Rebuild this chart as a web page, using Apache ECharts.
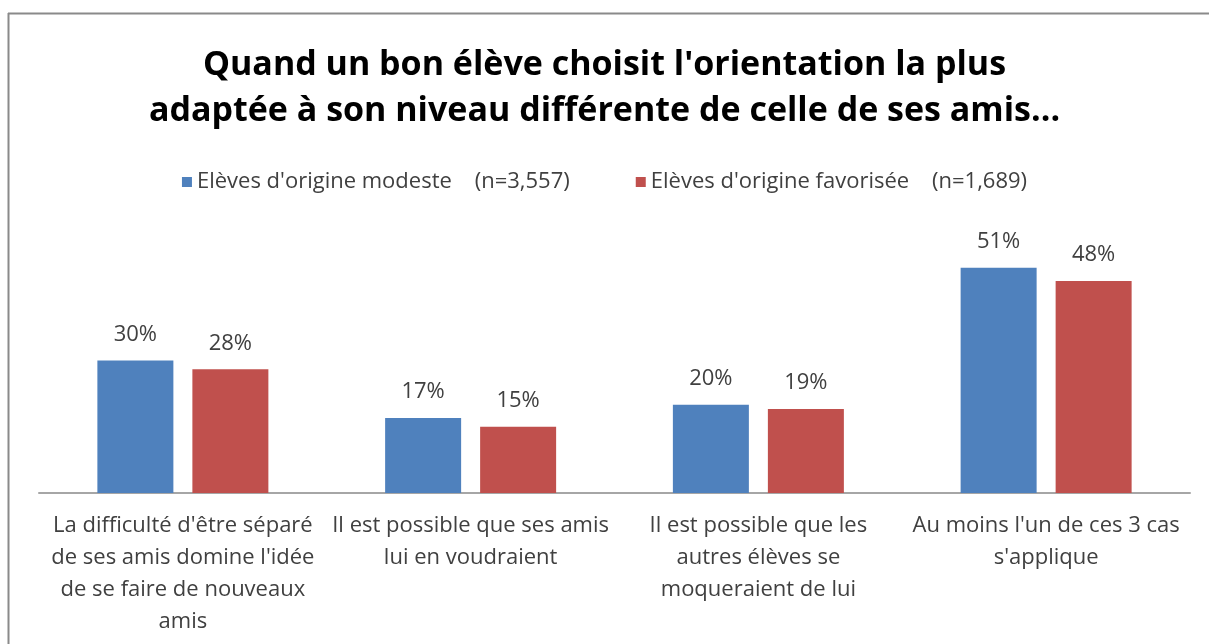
<!DOCTYPE html>
<html>
<head>
<meta charset="utf-8">
<script src="https://cdn.jsdelivr.net/npm/echarts@6/dist/echarts.min.js"></script>
<style>
  html, body { margin: 0; padding: 0; background: #fff; }
  #chart { width: 1209px; height: 644px; }
</style>
</head>
<body>
<div id="chart"></div>
<script>
// catégories (axe x)
const categories = [
  "La difficulté d'être séparé\nde ses amis domine l'idée\nde se faire de nouveaux\namis",
  'Il est possible que ses amis\nlui en voudraient',
  'Il est possible que les\nautres élèves se\nmoqueraient de lui',
  "Au moins l'un de ces 3 cas\ns'applique"
];
const seriesNames = [
  "Elèves d'origine modeste    (n=3,557)",
  "Elèves d'origine favorisée    (n=1,689)"
];
const modeste = [30, 17, 20, 51];
const favorisee = [28, 15, 19, 48];

const textColor = '#404040';
const font = '"Open Sans", "Liberation Sans", sans-serif';

const chart = echarts.init(document.getElementById('chart'));
chart.setOption({
  animation: false,
  backgroundColor: '#fff',
  color: ['#4F81BD', '#C0504D'],
  title: {
    text: "Quand un bon élève choisit l'orientation la plus\nadaptée à son niveau différente de celle de ses amis...",
    left: 'center',
    top: 37,
    textStyle: {
      fontFamily: font,
      fontSize: 34,
      fontWeight: 'bold',
      color: '#000',
      lineHeight: 46
    }
  },
  legend: {
    top: 166,
    left: 'center',
    itemWidth: 10,
    itemHeight: 10,
    itemGap: 66,
    icon: 'rect',
    textStyle: {
      fontFamily: font,
      fontSize: 22,
      color: textColor
    }
  },
  graphic: [
    { type: 'line', shape: { x1: 8.5, y1: 13, x2: 8.5, y2: 644 }, style: { stroke: '#8a8a8a', lineWidth: 2 } },
    { type: 'line', shape: { x1: 8, y1: 13.5, x2: 1209, y2: 13.5 }, style: { stroke: '#8a8a8a', lineWidth: 2 } }
  ],
  grid: {
    left: 39,
    right: 19,
    top: 228,
    bottom: 151,
    containLabel: false
  },
  xAxis: {
    type: 'category',
    data: categories,
    axisTick: { show: false },
    axisLine: { lineStyle: { color: '#a6a6a6', width: 2 } },
    axisLabel: {
      interval: 0,
      margin: 17,
      fontFamily: font,
      fontSize: 22,
      lineHeight: 32,
      color: textColor
    }
  },
  yAxis: {
    type: 'value',
    min: 0,
    max: 60,
    show: false,
    splitLine: { show: false }
  },
  series: [
    {
      name: seriesNames[0],
      type: 'bar',
      data: modeste,
      barWidth: 76,
      barGap: '25%',
      label: {
        show: true,
        position: 'top',
        distance: 15,
        formatter: '{c}%',
        fontFamily: font,
        fontSize: 22,
        color: textColor
      }
    },
    {
      name: seriesNames[1],
      type: 'bar',
      data: favorisee,
      barWidth: 76,
      barGap: '25%',
      label: {
        show: true,
        position: 'top',
        distance: 15,
        formatter: '{c}%',
        fontFamily: font,
        fontSize: 22,
        color: textColor
      }
    }
  ]
});
</script>
</body>
</html>
